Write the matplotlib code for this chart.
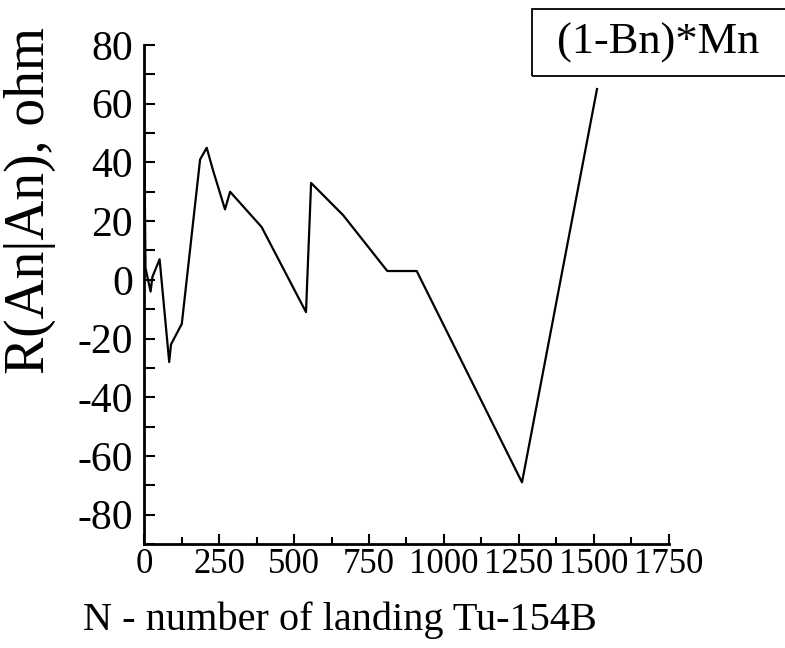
import matplotlib
matplotlib.use("Agg")
import matplotlib.pyplot as plt
from matplotlib.patches import Rectangle
from matplotlib.ticker import MultipleLocator

# Data
landings = [0, 5, 22, 28, 52, 84, 90, 126, 187, 209, 231, 270, 287, 392,
            540, 557, 664, 811, 909, 1260, 1510]
resistance = [60, 4, -4, 1, 7, -28, -22, -15, 41, 45, 37, 24, 30, 18,
              -11, 33, 22, 3, 3, -69, 65]
x_ticks = [0, 250, 500, 750, 1000, 1250, 1500, 1750]
y_ticks = [80, 60, 40, 20, 0, -20, -40, -60, -80]
series_label = "(1-Bn)*Mn"

plt.rcParams['font.family'] = ['Liberation Serif', 'DejaVu Serif']

fig = plt.figure(figsize=(7.85, 6.48), dpi=100)
W, H = 785, 648
ax_l, ax_r, ax_t, ax_b = 144, 669, 45, 544
ax = fig.add_axes([ax_l / W, 1 - ax_b / H, (ax_r - ax_l) / W, (ax_b - ax_t) / H])

ax.plot(landings, resistance, color='black', lw=1.6)

ax.set_xlim(0, 1750)
ax.set_ylim(-90, 80)
ax.set_xticks(x_ticks)
ax.set_yticks(y_ticks)
ax.xaxis.set_minor_locator(MultipleLocator(125))
ax.yaxis.set_minor_locator(MultipleLocator(10))

for s in ['top', 'right']:
    ax.spines[s].set_visible(False)
for s in ['left', 'bottom']:
    ax.spines[s].set_linewidth(2.0)

ax.tick_params(axis='both', which='both', direction='in', width=1.5, colors='black')
ax.tick_params(axis='y', which='both', length=8, pad=8, labelsize=30)
ax.tick_params(axis='x', which='major', length=7, pad=3, labelsize=25)
ax.tick_params(axis='x', which='minor', length=5)
ax.set_yticklabels([str(v) for v in y_ticks])

ax.set_ylabel("R(An|An), ohm", fontsize=40)
ax.yaxis.set_label_coords((56 - ax_l) / (ax_r - ax_l), (ax_b - 200) / (ax_b - ax_t))
ax.set_xlabel("N - number of landing Tu-154B", fontsize=29)
ax.xaxis.set_label_coords((340 - ax_l) / (ax_r - ax_l), (ax_b - 601) / (ax_b - ax_t))

# Legend-like box at top right
rect = Rectangle((532 / W, 1 - 76 / H), (800 - 532) / W, (76 - 9) / H,
                 transform=fig.transFigure, fill=False, edgecolor='black',
                 lw=1.3, clip_on=False)
fig.patches.append(rect)
fig.text(557 / W, 1 - 43 / H, series_label, fontsize=32, va='center', ha='left')

fig.savefig("out.png", dpi=100)
